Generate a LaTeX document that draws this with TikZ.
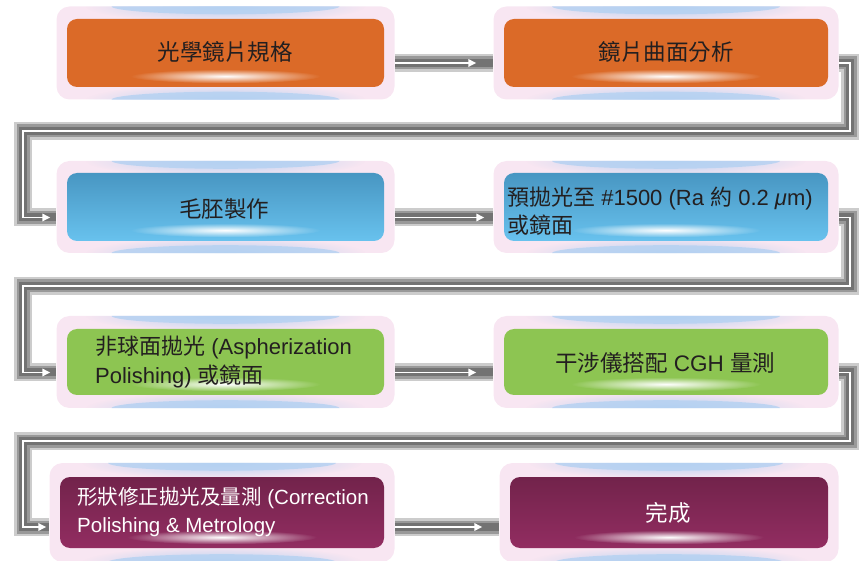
\documentclass[tikz,border=0pt]{standalone}
\usepackage{fontspec}
\setmainfont{Liberation Sans}
\newfontfamily\cjk{Noto Sans CJK TC}
\usetikzlibrary{arrows.meta,fadings,backgrounds}
\definecolor{framepink}{HTML}{F8E6F2}
\definecolor{lensblue}{HTML}{B4D1F1}
\definecolor{boxorange}{HTML}{DB6A28}
\definecolor{blueT}{HTML}{4896C2}
\definecolor{blueB}{HTML}{68C2EE}
\definecolor{boxgreen}{HTML}{8DC552}
\definecolor{purpleT}{HTML}{72234B}
\definecolor{purpleB}{HTML}{922D61}
\definecolor{textdark}{HTML}{231F20}
\tikzfading[name=glowfade, inner color=transparent!0, outer color=transparent!100]
\newcommand\flowbox[7]{%
  \node[framebox, minimum width=#4pt+21pt, minimum height=#5pt+#7pt] (f#1) at (#2,#3) {};
  \begin{scope}
    \clip[rounded corners=13pt] (f#1.south west) rectangle (f#1.north east);
    \fill[lensblue, opacity=0.8] (f#1.north) ellipse (114pt and 8pt);
    \fill[lensblue, opacity=0.8] (f#1.south) ellipse (114pt and 8pt);
    \fill[lensblue, path fading=glowfade] (f#1.north) ellipse (140pt and 16pt);
    \fill[lensblue, path fading=glowfade] (f#1.south) ellipse (140pt and 16pt);
  \end{scope}
  \node[innerbox, #6, minimum width=#4pt, minimum height=#5pt] (#1) at (#2,#3) {};
  \fill[white, path fading=glowfade] ([yshift=11pt]#1.south) ellipse (95pt and 7pt);
}
\begin{document}
\begin{tikzpicture}[x=1pt, y=-1pt,
  framebox/.style={draw=none, fill=framepink, rounded corners=13pt, inner sep=0pt},
  innerbox/.style={draw=none, rounded corners=10pt, inner sep=0pt},
  orangefill/.style={fill=boxorange},
  bluefill/.style={top color=blueT, bottom color=blueB},
  greenfill/.style={fill=boxgreen},
  purplefill/.style={top color=purpleT, bottom color=purpleB},
  txt/.style={inner sep=0pt, text=textdark, font=\fontsize{22.5}{28}\selectfont},
  tube/.style={line width=8pt, draw=black!55, line join=miter,
    preaction={draw=black!40, line width=13pt,
      preaction={draw=black!20, line width=18pt}}},
  wline/.style={draw=white, line width=1.6pt},
  warrow/.style={wline, -{Triangle[length=8pt,width=7.5pt]}}
]
\useasboundingbox (0,0) rectangle (860,561);

% boxes (frame nodes are named fb1 ... fb8)
\flowbox{b1}{225.5}{53}{317}{68}{orangefill}{25}
\flowbox{b2}{666}{53}{324}{68}{orangefill}{25}
\flowbox{b3}{225.5}{207}{317}{68}{bluefill}{24}
\flowbox{b4}{666}{207}{324}{68}{bluefill}{24}
\flowbox{b5}{225.5}{362}{317}{66}{greenfill}{26}
\flowbox{b6}{666}{362}{324}{66}{greenfill}{26}
\flowbox{b7}{222}{512.5}{324}{71}{purplefill}{28}
\flowbox{b8}{669}{512.5}{318}{71}{purplefill}{28}

% texts
\node[txt] (t1) at (225,52) {\cjk 光學鏡片規格};
\node[txt] (t2) at (666,52) {\cjk 鏡片曲面分析};
\node[txt] (t3) at (224,209) {\cjk 毛胚製作};
\node[txt, anchor=west, align=left, font=\fontsize{22}{28}\selectfont] (t4) at (507,211)
  {{\cjk 預拋光至} \#1500 (Ra {\cjk 約} 0.2 {\itshape μ}m)\\{\cjk 或鏡面}};
\node[txt, anchor=west, align=left, font=\fontsize{22}{28.5}\selectfont] (t5) at (95,362)
  {{\cjk 非球面拋光} (Aspherization\\Polishing) {\cjk 或鏡面}};
\node[txt] (t6) at (665,363) {{\cjk 干涉儀搭配} CGH {\cjk 量測}};
\node[txt, anchor=west, align=left, text=white, font=\fontsize{20.5}{28.5}\selectfont] (t7) at (77,512)
  {{\cjk 形狀修正拋光及量測} (Correction\\Polishing \& Metrology};
\node[txt, text=white] (t8) at (668,513) {\cjk 完成};

% corner coordinates of the loops
\coordinate (d1) at (850,131); \coordinate (e1) at (23,131);
\coordinate (d2) at (850,286); \coordinate (e2) at (23,286);
\coordinate (d3) at (850,441); \coordinate (e3) at (23,441);

% tubes behind
\begin{pgfonlayer}{background}
\draw[tube] ([yshift=-10pt]fb1.east) -- ([yshift=-10pt]fb2.west);
\draw[tube] ([yshift=-10pt]fb2.east) -| (d1) -- (e1) |- ([yshift=-10.5pt]fb3.west);
\draw[tube] ([yshift=-10.5pt]fb3.east) -- ([yshift=-10.5pt]fb4.west);
\draw[tube] ([yshift=-10.5pt]fb4.east) -| (d2) -- (e2) |- ([yshift=-10.5pt]fb5.west);
\draw[tube] ([yshift=-10.5pt]fb5.east) -- ([yshift=-10.5pt]fb6.west);
\draw[tube] ([yshift=-10.5pt]fb6.east) -| (d3) -- (e3) |- ([yshift=-14.5pt]fb7.west);
\draw[tube] ([yshift=-14.5pt]fb7.east) -- ([yshift=-14.5pt]fb8.west);
\end{pgfonlayer}

% white lines with arrows
\draw[warrow] ([yshift=-10pt]fb1.east) -- ([xshift=-17pt,yshift=-10pt]fb2.west);
\draw[warrow] ([yshift=-10pt]fb2.east) -| (d1) -- (e1) |- ([xshift=-6pt,yshift=-10.5pt]fb3.west);
\draw[warrow] ([yshift=-10.5pt]fb3.east) -- ([xshift=-9pt,yshift=-10.5pt]fb4.west);
\draw[warrow] ([yshift=-10.5pt]fb4.east) -| (d2) -- (e2) |- ([xshift=-6pt,yshift=-10.5pt]fb5.west);
\draw[warrow] ([yshift=-10.5pt]fb5.east) -- ([xshift=-17pt,yshift=-10.5pt]fb6.west);
\draw[warrow] ([yshift=-10.5pt]fb6.east) -| (d3) -- (e3) |- ([xshift=-3pt,yshift=-14.5pt]fb7.west);
\draw[warrow] ([yshift=-14.5pt]fb7.east) -- ([xshift=-17pt,yshift=-14.5pt]fb8.west);
\end{tikzpicture}
\end{document}
